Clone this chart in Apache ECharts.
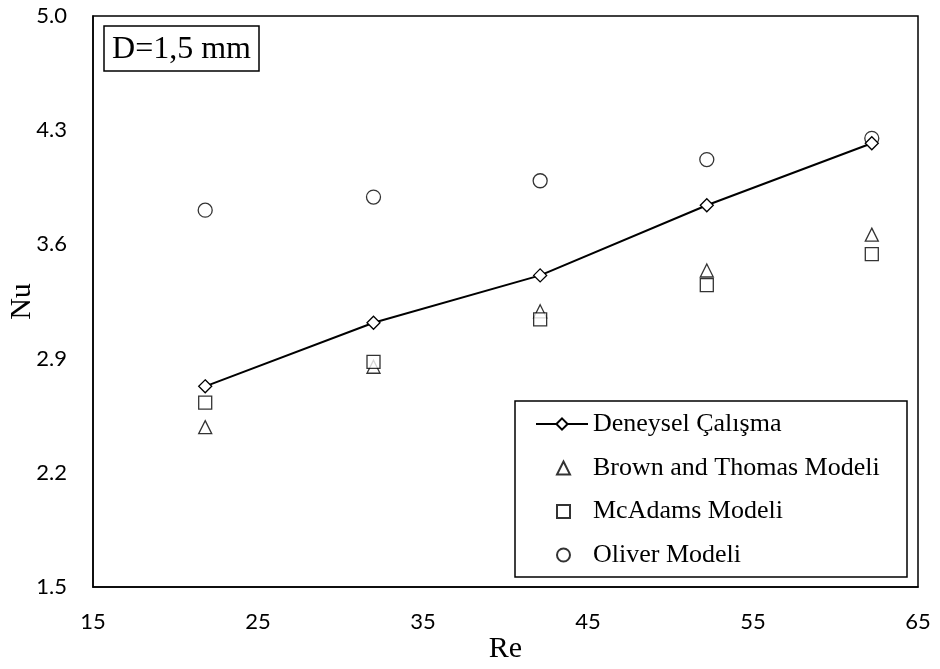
<!DOCTYPE html>
<html><head><meta charset="utf-8">
<script src="https://cdn.jsdelivr.net/npm/echarts@6/dist/echarts.min.js"></script>
<style>html,body{margin:0;padding:0;background:#fff}#c{width:940px;height:669px}</style>
</head><body><div id="c"></div>
<script>
const re = [21.8, 32.0, 42.1, 52.2, 62.2];
const deneysel = [2.73, 3.12, 3.41, 3.84, 4.22];
const brown = [2.48, 2.85, 3.19, 3.44, 3.66];
const mcadams = [2.63, 2.88, 3.14, 3.35, 3.54];
const oliver = [3.81, 3.89, 3.99, 4.12, 4.25];
const names = ['Deneysel Çalışma', 'Brown and Thomas Modeli', 'McAdams Modeli', 'Oliver Modeli'];
const xTicks = [15, 25, 35, 45, 55, 65];
const yTicks = [1.5, 2.2, 2.9, 3.6, 4.3, 5.0];
const label = 'D=1,5 mm';

const pair = arr => re.map((x, i) => [x, arr[i]]);
const chart = echarts.init(document.getElementById('c'));
const mk = {color: '#fff', borderColor: '#000', borderWidth: 1.3};
const legText = {fontFamily: 'Liberation Serif', fontSize: 26, lineHeight: 26, color: '#000'};
chart.setOption({
  animation: false,
  grid: {left: 93, top: 16, right: 22, bottom: 82, outerBoundsMode: 'none', containLabel: false,
    show: true, borderColor: '#000', borderWidth: 1.5, backgroundColor: 'transparent'},
  xAxis: {type: 'value', min: xTicks[0], max: xTicks[xTicks.length - 1], interval: 10,
    name: 'Re', nameLocation: 'middle', nameGap: 47, nameMoveOverlap: false,
    nameTextStyle: {fontFamily: 'Liberation Serif', fontSize: 30, color: '#000'},
    axisLine: {show: true, lineStyle: {color: '#000', width: 1.5}}, axisTick: {show: false}, splitLine: {show: false},
    axisLabel: {margin: 24, fontFamily: 'Lato', fontSize: 22, color: '#000'}},
  yAxis: {type: 'value', min: yTicks[0], max: yTicks[yTicks.length - 1], interval: 0.7,
    name: 'Nu', nameLocation: 'middle', nameGap: 56, nameMoveOverlap: false,
    nameTextStyle: {fontFamily: 'Liberation Serif', fontSize: 30, color: '#000'},
    axisLine: {show: true, lineStyle: {color: '#000', width: 1.5}}, axisTick: {show: false}, splitLine: {show: false},
    axisLabel: {margin: 26, fontFamily: 'Lato', fontSize: 22, color: '#000', formatter: v => v.toFixed(1)}},
  legend: [
    {orient: 'vertical', left: 535, top: 411, padding: 0, itemWidth: 52, itemHeight: 14,
      textStyle: legText, data: [names[0]]},
    {orient: 'vertical', left: 556, top: 455, padding: 0, itemGap: 17.5, itemWidth: 13, itemHeight: 13,
      textStyle: Object.assign({padding: [0, 0, 0, 18]}, legText), data: names.slice(1)}
  ],
  graphic: [
    {type: 'rect', shape: {x: 515, y: 401, width: 392, height: 176}, style: {fill: '#fff', stroke: '#000', lineWidth: 1.5}, z: 0},
    {type: 'rect', shape: {x: 104, y: 26, width: 155, height: 45}, style: {fill: '#fff', stroke: '#000', lineWidth: 1.5}, z: 10},
    {type: 'text', x: 181.5, y: 50, style: {text: label, fontFamily: 'Liberation Serif', fontSize: 32, fill: '#000', align: 'center', verticalAlign: 'middle'}, z: 11}
  ],
  series: [
    {name: names[0], type: 'line', data: pair(deneysel), symbol: 'diamond', symbolSize: 13,
      lineStyle: {color: '#000', width: 2}, itemStyle: mk, z: 3},
    {name: names[1], type: 'scatter', data: pair(brown), symbol: 'triangle', symbolSize: 13, itemStyle: mk, z: 2},
    {name: names[2], type: 'scatter', data: pair(mcadams), symbol: 'rect', symbolSize: 13, itemStyle: mk, z: 2},
    {name: names[3], type: 'scatter', data: pair(oliver), symbol: 'circle', symbolSize: 14, itemStyle: mk, z: 2}
  ]
});
</script></body></html>
